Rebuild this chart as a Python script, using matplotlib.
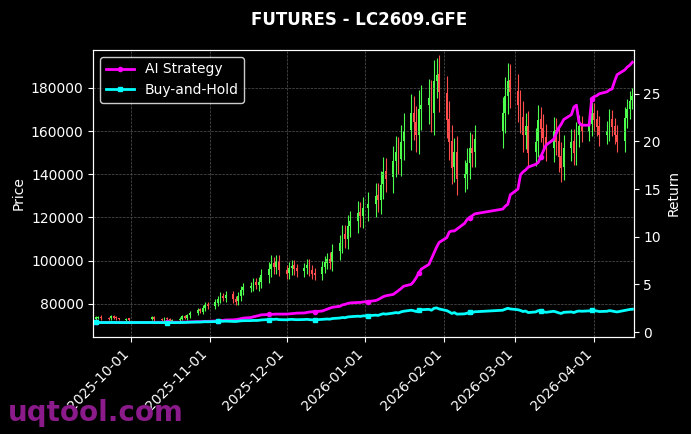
import matplotlib
matplotlib.use("Agg")
import matplotlib.pyplot as plt
import matplotlib.dates as mdates
import pandas as pd
import numpy as np

holidays = pd.to_datetime(["2025-10-01","2025-10-02","2025-10-03","2025-10-06","2025-10-07","2025-10-08",
                           "2026-01-01","2026-02-16","2026-02-17","2026-02-18","2026-02-19","2026-02-20","2026-02-23"])
dates = pd.bdate_range("2025-09-17", "2026-04-16")
dates = dates[~dates.isin(holidays)]

close = [73.5,73.8,73.2, 73.0,74.0,73.5,73.2,72.8, 73.0,72.6, 73.5,72.8,
 72.5,73.2,72.8,72.0,72.4, 73.0,74.0,73.6,74.5,75.5, 77.0,76.5,78.0,79.5,78.8,
 80.5,82.0,83.5,82.8,84.0, 82.0,81.0,83.5,86.0,87.5, 88.0,89.5,88.8,90.0,93.0,
 96.0,98.5,97.0,99.5,95.5, 94.0,96.5,97.5,96.0,95.0, 96.5,98.0,95.5,94.0,93.5,
 97.0,99.0,100.5,99.0,104.0, 108.0,112.0,110.0,116.0,118.0, 122.0,120.5,124.0, 126.0,
 130.0,128.0,135.0,141.0,138.0, 146.0,150.0,147.0,155.0,160.0, 168.0,164.0,158.0,170.0,172.0,
 175.0,168.0,183.0,186.0,178.0, 165.0,155.0,143.0,150.0,138.0, 140.0,145.0,152.0,150.0,156.0,
 168.0,176.0,183.0,178.0, 172.0,166.0,158.0,162.0,150.0, 155.0,165.0,161.0,157.0,152.0,
 160.0,155.0,148.0,143.0,152.0, 155.0,150.0,158.0,162.0,160.0, 163.0,168.0, 165.0,162.0,158.0,
 160.0,165.0,162.0,158.0,155.0, 166.0,170.0,174.0,176.0]
open_ = [73.0,73.6,73.9, 73.3,73.2,74.1,73.6,73.1, 72.7,73.1, 73.0,73.6,
 72.9,72.6,73.3,72.8,72.1, 72.5,73.1,74.2,73.5,74.6, 75.8,77.2,76.4,78.1,79.6,
 79.0,80.4,82.1,83.6,82.6, 84.2,82.2,81.2,83.4,86.2, 87.4,88.2,89.7,88.6,90.2,
 93.2,96.2,98.8,96.8,99.7, 95.3,94.2,96.4,97.8,96.2, 95.2,96.4,98.2,95.6,94.1,
 93.8,97.2,99.1,100.8,99.2, 104.5,108.2,112.3,110.2,116.2, 118.4,122.3,120.7, 124.2,
 126.3,130.4,128.2,135.3,141.2, 138.5,146.2,150.3,147.1,155.3, 160.4,168.3,164.2,158.3,170.2,
 172.3,175.2,168.4,183.2,186.3, 177.5,165.4,155.2,143.3,150.2, 138.4,140.2,145.3,152.2,150.2,
 160.0,168.3,176.2,183.4, 178.3,172.2,166.3,158.2,162.3, 150.4,155.2,165.3,161.2,157.2,
 152.3,160.2,155.2,148.3,143.2, 152.2,155.3,150.2,158.3,162.2, 160.2,163.3, 168.2,165.3,162.2,
 158.3,160.2,165.3,162.2,158.2, 155.3,166.2,170.3,174.2]
wick = [0.6,0.5,0.7, 0.6,0.8,0.5,0.6,0.5, 0.6,0.5, 0.7,0.6,
 0.5,0.6,0.5,0.6,0.5, 0.7,0.8,0.6,0.9,1.0, 1.2,1.0,1.3,1.5,1.2,
 1.5,1.6,1.8,1.4,1.7, 1.6,1.5,1.8,2.0,2.2, 2.0,2.4,2.1,2.5,3.0,
 3.5,4.0,3.0,3.2,2.8, 2.5,2.8,3.0,2.6,2.4, 2.6,2.8,2.5,2.4,2.3,
 2.8,3.0,3.2,3.0,3.8, 4.0,4.5,4.2,5.0,5.2, 5.5,5.0,5.6, 5.8,
 6.0,5.5,6.5,7.0,6.2, 7.0,7.5,7.0,8.0,8.5, 9.0,8.0,7.5,9.0,9.5,
 9.0,8.5,10.0,8.0,9.0, 8.0,8.5,7.5,7.0,7.5, 6.5,7.0,7.5,6.5,7.0,
 8.0,9.0,8.5,7.5, 8.0,7.0,7.5,6.5,7.0, 6.5,7.0,6.0,6.5,6.0,
 6.5,6.0,7.0,6.5,6.0, 6.0,5.5,6.0,5.5,5.0, 5.0,5.5, 5.0,4.5,5.0,
 4.5,5.0,4.5,4.0,4.5, 5.0,5.0,4.5,4.0]
ai_ret = [1.00,1.00,1.00, 1.00,1.00,1.01,1.01,1.01, 1.01,1.01, 1.01,1.02,
 1.02,1.02,1.02,1.03,1.03, 1.03,1.04,1.04,1.05,1.06, 1.08,1.08,1.10,1.12,1.12,
 1.15,1.18,1.22,1.22,1.26, 1.28,1.30,1.34,1.40,1.46, 1.52,1.60,1.66,1.72,1.80,
 1.84,1.86,1.86,1.88,1.88, 1.88,1.90,1.92,1.95,1.98, 2.00,2.05,2.10,2.12,2.15,
 2.20,2.30,2.40,2.50,2.60, 2.70,2.85,2.90,3.00,3.05, 3.10,3.10,3.15, 3.20,
 3.30,3.40,3.55,3.70,3.80, 3.95,4.15,4.35,4.55,4.80, 5.00,5.30,5.70,6.20,6.60,
 7.10,7.70,8.30,8.90,9.40, 9.90,10.5,10.6,10.6,10.8, 11.4,11.8,12.0,12.2,12.4,
 12.9,13.2,13.4,14.4, 15.0,16.5,16.8,17.0,17.3, 17.6,17.8,18.4,19.0,19.6,
 20.2,20.8,21.4,21.8,22.3, 22.8,23.6,23.8,22.0,21.7, 21.7,24.5, 24.7,24.8,25.0,
 25.2,25.4,25.5,26.3,27.0, 27.5,27.8,28.0,28.3]

close = np.array(close) * 1000
open_ = np.array(open_) * 1000
wick = np.array(wick) * 1000
high = np.maximum(open_, close) + wick
low = np.minimum(open_, close) - wick
bh_ret = close / close[0]

fig = plt.figure(figsize=(6.91, 4.34), dpi=100, facecolor="black")
ax = fig.add_axes([0.135, 0.224, 0.782, 0.661], facecolor="black")
up = close >= open_
cols = np.where(up, "#4dff4d", "#ff4d4d")
x = mdates.date2num(dates)
ax.vlines(x, low, high, colors=cols, linewidth=0.8)
ax.bar(x, np.abs(close - open_) + 150, bottom=np.minimum(open_, close), width=0.7, color=cols, linewidth=0)
ax.set_ylim(64700, 197600)
ax.set_xlim(mdates.date2num(pd.Timestamp("2025-09-16")), mdates.date2num(pd.Timestamp("2026-04-16 12:00")))
ax.grid(True, color="#555555", linestyle="--", linewidth=0.5)
ax.set_ylabel("Price", color="white")
ax.tick_params(colors="white")
for s in ax.spines.values():
    s.set_color("white")
ax.xaxis.set_major_locator(mdates.MonthLocator())
ax.xaxis.set_major_formatter(mdates.DateFormatter("%Y-%m-%d"))
plt.setp(ax.get_xticklabels(), rotation=45, ha="right")

ax2 = ax.twinx()
ax2.plot(x, ai_ret, color="#ff00ff", linewidth=2, marker="o", markersize=3, markevery=14, label="AI Strategy")
ax2.plot(x, bh_ret, color="#00ffff", linewidth=2, marker="s", markersize=3, markevery=14, label="Buy-and-Hold")
ax2.set_ylim(-0.5, 29.6)
ax2.set_ylabel("Return", color="white")
ax2.tick_params(colors="white")
for s in ax2.spines.values():
    s.set_color("white")
leg = ax2.legend(loc="upper left", facecolor="black", edgecolor="white", labelcolor="white")

fig.suptitle("FUTURES - LC2609.GFE", color="white", fontweight="bold", y=0.975, x=0.52)
fig.text(0.012, 0.03, "uqtool.com", color="#8b1a8b", fontsize=20, fontweight="bold")
fig.savefig("out.png", dpi=100, facecolor="black")
